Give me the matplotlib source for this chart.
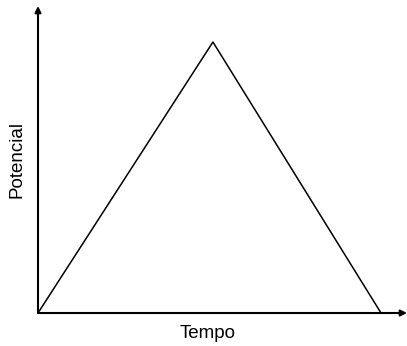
import matplotlib.pyplot as plt

plt.rcParams['font.family'] = ['Liberation Sans', 'DejaVu Sans']

tempo = [0, 51, 100]
potencial = [0, 1, 0]

fig = plt.figure(figsize=(4.07, 3.46), dpi=100)
ax = fig.add_axes([38 / 407, 33 / 346, 369 / 407, 307 / 346])

ax.plot(tempo, potencial, color='black', linewidth=1.1)
ax.set_xlim(0, 100 * 369 / 343)
ax.set_ylim(0, 307 / 271)

for s in ax.spines.values():
    s.set_visible(False)
ax.set_xticks([])
ax.set_yticks([])

# axis arrows
ax.annotate('', xy=(1, 0), xytext=(0, 0), xycoords='axes fraction',
            arrowprops=dict(arrowstyle='-|>', color='black', lw=1.5,
                            mutation_scale=9, shrinkA=0, shrinkB=0))
ax.annotate('', xy=(0, 1), xytext=(0, 0), xycoords='axes fraction',
            arrowprops=dict(arrowstyle='-|>', color='black', lw=1.5,
                            mutation_scale=9, shrinkA=0, shrinkB=0))

fig.text(208 / 407, 1 - 333 / 346, 'Tempo', ha='center', va='center', fontsize=13.5)
fig.text(17 / 407, 1 - 159 / 346, 'Potencial', ha='center', va='center',
         rotation=90, fontsize=13.5)

fig.savefig('out.png', dpi=100)
